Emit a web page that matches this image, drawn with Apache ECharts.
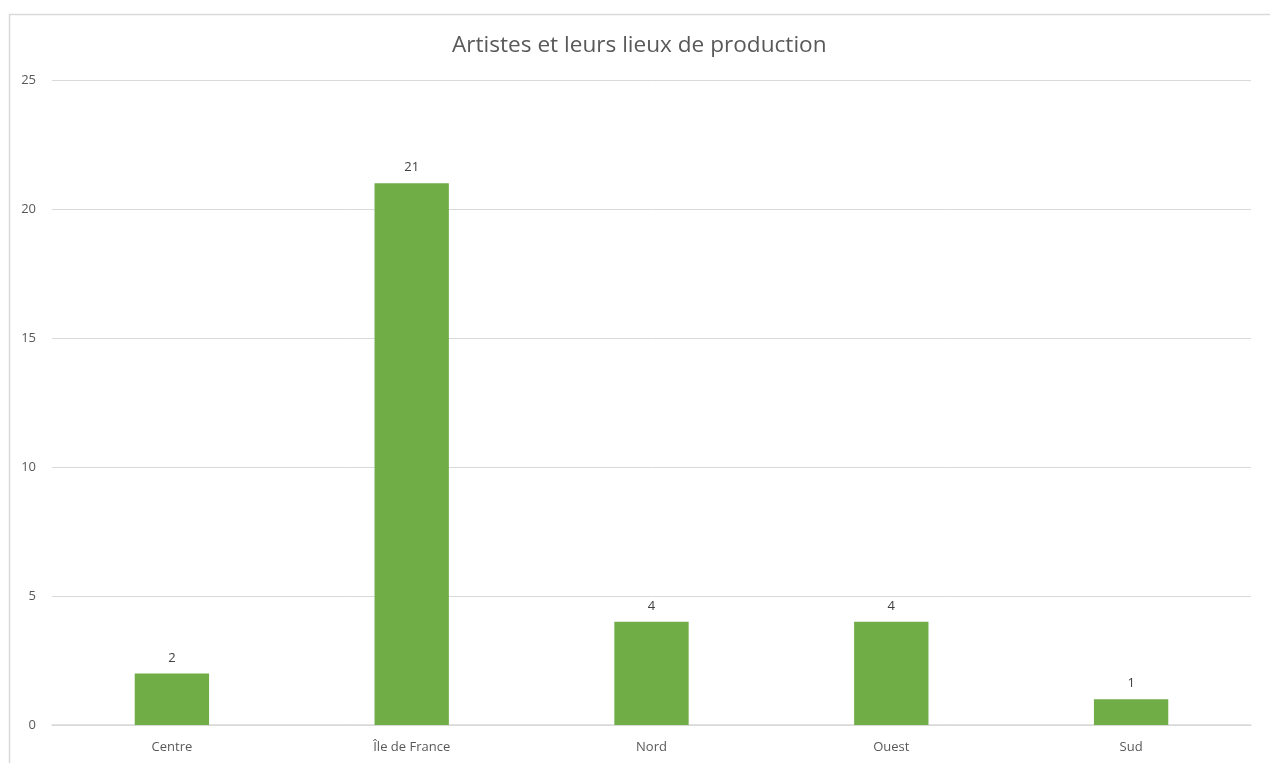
<!DOCTYPE html>
<html><head><meta charset="utf-8">
<script src="https://cdn.jsdelivr.net/npm/echarts@6/dist/echarts.min.js"></script>
<style>html,body{margin:0;padding:0;background:#fff}#c{width:1270px;height:763px}</style>
</head><body><div id="c"></div>
<script>
const categories = ['Centre', 'Île de France', 'Nord', 'Ouest', 'Sud'];
const values = [2, 21, 4, 4, 1];
const chartTitle = 'Artistes et leurs lieux de production';

const chart = echarts.init(document.getElementById('c'));
const font = 'Open Sans, Liberation Sans, sans-serif';
chart.setOption({
  animation: false,
  graphic: [{type: 'rect', left: 7, top: 12, shape: {width: 1400, height: 900}, style: {fill: 'none', stroke: '#d9d9d9', lineWidth: 1.5}, silent: true}],
  title: {text: chartTitle, left: 447, top: 29, textStyle: {fontFamily: font, fontSize: 22.6, fontWeight: 'normal', color: '#595959'}},
  grid: {left: 52, right: 19, top: 80, bottom: 38, containLabel: false},
  xAxis: {type: 'category', data: categories,
    axisLine: {lineStyle: {color: '#d9d9d9', width: 1.5}}, axisTick: {show: false},
    axisLabel: {fontFamily: font, fontSize: 13, color: '#595959', margin: 16}},
  yAxis: {type: 'value', min: 0, max: 25, interval: 5,
    axisLine: {show: false}, axisTick: {show: false},
    splitLine: {lineStyle: {color: '#d9d9d9', width: 1}},
    axisLabel: {fontFamily: font, fontSize: 13, color: '#595959', margin: 16}},
  series: [{type: 'bar', data: values, barWidth: '31%',
    itemStyle: {color: '#70ad47'},
    label: {show: true, position: 'top', distance: 9, fontFamily: font, fontSize: 13, color: '#404040'}}]
});
</script></body></html>
